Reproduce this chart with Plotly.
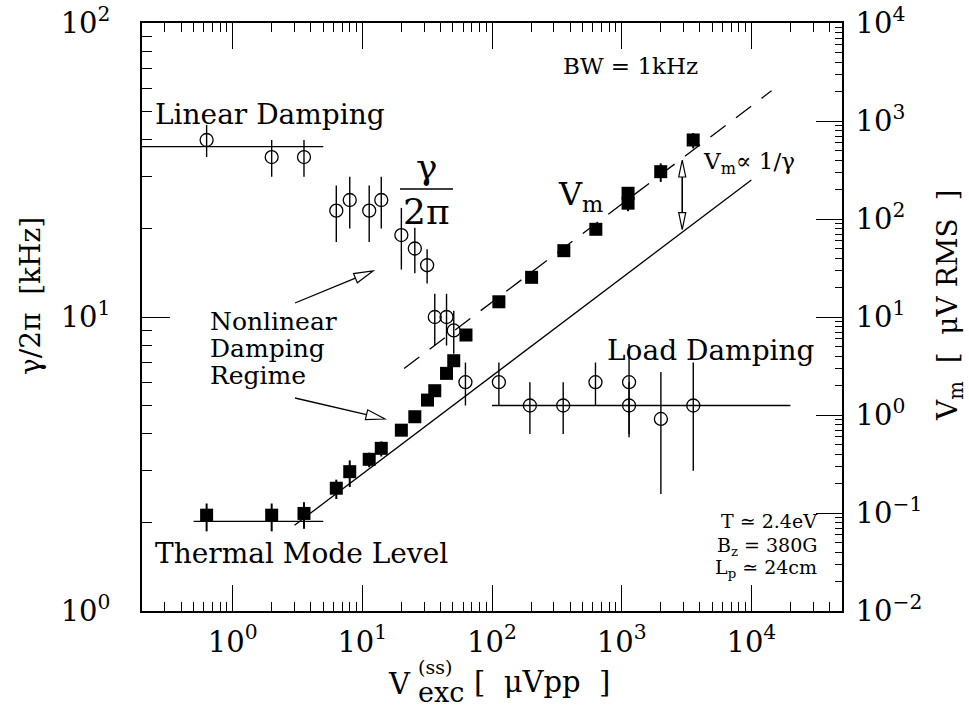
import math
import plotly.graph_objects as go

FONT = "DejaVu Serif"

# ---------------- data ----------------
# damping rate gamma/2pi [kHz]  (open circles, left axis)
gamma_x = [0.63, 2.0, 3.55, 6.3, 8.0, 11.3, 14.0, 20.0, 25.4, 31.6, 36.2, 44.6,
           50.7, 62.4, 113, 196, 354, 628, 1140, 1140, 2006, 3565]
gamma_y = [40, 35, 35, 23, 25, 23, 25, 19, 17.1, 15, 10, 10,
           9, 6, 6, 5, 5, 6, 6, 5, 4.5, 5]
gamma_err = [5, 5, 5, 5, 5, 5, 5, 4.5, 3, 2, 2, 2,
             1.5, 1, 1, 1, 1, 1, 2.1, 1, 2, 2]

# mode amplitude V_m [uV RMS]  (filled squares, right axis)
vm_x = [0.63, 2.0, 3.55, 6.3, 8.0, 11.3, 14.0, 20.0, 25.4, 31.8, 36.2, 44.6,
        50.7, 63.0, 113, 202, 358, 632, 1120, 1120, 2000, 3560]
vm_y = [0.095, 0.095, 0.099, 0.179, 0.264, 0.353, 0.457, 0.70, 0.96, 1.42, 1.77, 2.66,
        3.58, 6.55, 14.3, 25.4, 47.5, 78.5, 145, 183, 304, 640]
vm_err = [0.03, 0.03, 0.03, 0.04, 0.08, 0.06, 0.08, 0, 0, 0, 0, 0,
          0, 0, 0, 0, 0, 0, 25, 25, 65, 115]

# reference levels / fits
linear_damping_x = [0.2, 5]
linear_damping_level = 38          # kHz
load_damping_x = [100, 2.0e4]
load_damping_level = 5             # kHz
thermal_x = [0.5, 5]
thermal_level = 0.082              # uV RMS
linear_resp_x = [3, 1.0e4]
linear_resp_coef = 0.025           # V_m = coef * V_exc
nonlin_x = [21, 1.43e4]
nonlin_coef = 0.142
ratio_arrow_x = 2930               # position of the V_m ~ 1/gamma arrow

x_ticks = [1, 10, 100, 1000, 10000]
x_ticktext = ["10<sup>0</sup>", "10<sup>1</sup>", "10<sup>2</sup>", "10<sup>3</sup>", "10<sup>4</sup>"]
y_ticks = [1, 10, 100]
y_ticktext = ["10<sup>0</sup>", "10<sup>1</sup>", "10<sup>2</sup>"]
y2_ticks = [0.01, 0.1, 1, 10, 100, 1000, 10000]
y2_ticktext = ["10<sup>−2</sup>", "10<sup>−1</sup>", "10<sup>0</sup>", "10<sup>1</sup>",
               "10<sup>2</sup>", "10<sup>3</sup>", "10<sup>4</sup>"]

X_RANGE = [math.log10(0.2), math.log10(5e4)]
Y_RANGE = [0, 2]
Y2_RANGE = [-2, 4]

# ---------------- layout geometry ----------------
W, H = 969, 709
L, R, T, B = 142, 127, 23, 98
PW, PH = W - L - R, H - T - B


def minor_vals(lo, hi):
    out = []
    e = math.floor(math.log10(lo))
    while 10 ** e <= hi:
        for m in range(2, 10):
            v = m * 10 ** e
            if lo * 0.999 <= v <= hi * 1.001:
                out.append(v)
        e += 1
    return out


def px2paper(X, Y):
    return (X - L) / PW, (T + PH - Y) / PH


def data2px(x, y, axis="y"):
    X = L + (math.log10(x) - X_RANGE[0]) / (X_RANGE[1] - X_RANGE[0]) * PW
    rng = Y_RANGE if axis == "y" else Y2_RANGE
    Y = T + PH - (math.log10(y) - rng[0]) / (rng[1] - rng[0]) * PH
    return X, Y


fig = go.Figure()

LW = 1.3
# horizontal level lines
fig.add_trace(go.Scatter(x=linear_damping_x, y=[linear_damping_level] * 2, mode="lines",
                         line=dict(color="black", width=LW), yaxis="y"))
fig.add_trace(go.Scatter(x=load_damping_x, y=[load_damping_level] * 2, mode="lines",
                         line=dict(color="black", width=LW), yaxis="y"))
fig.add_trace(go.Scatter(x=thermal_x, y=[thermal_level] * 2, mode="lines",
                         line=dict(color="black", width=LW), yaxis="y2"))
# linear response line and nonlinear dashed line
fig.add_trace(go.Scatter(x=linear_resp_x, y=[linear_resp_coef * v for v in linear_resp_x],
                         mode="lines", line=dict(color="black", width=LW), yaxis="y2"))
fig.add_trace(go.Scatter(x=nonlin_x, y=[nonlin_coef * v for v in nonlin_x],
                         mode="lines", line=dict(color="black", width=LW, dash="19px,13px"),
                         yaxis="y2"))

# data
fig.add_trace(go.Scatter(x=gamma_x, y=gamma_y, mode="markers", yaxis="y",
                         marker=dict(symbol="circle-open", size=13, color="black",
                                     line=dict(width=1.3, color="black")),
                         error_y=dict(type="data", array=gamma_err, visible=True,
                                      color="black", thickness=1.4, width=0)))
fig.add_trace(go.Scatter(x=vm_x, y=vm_y, mode="markers", yaxis="y2",
                         marker=dict(symbol="square", size=13, color="black",
                                     line=dict(width=0)),
                         error_y=dict(type="data", array=vm_err, visible=True,
                                      color="black", thickness=2, width=0)))

shapes = []
annotations = []


def line_px(X0, Y0, X1, Y1, w=LW):
    a = px2paper(X0, Y0)
    b = px2paper(X1, Y1)
    shapes.append(dict(type="line", xref="paper", yref="paper", x0=a[0], y0=a[1],
                       x1=b[0], y1=b[1], line=dict(color="black", width=w)))


def hollow_arrow(X0, Y0, X1, Y1, head_len=19, head_hw=5, double=False):
    dx, dy = X1 - X0, Y1 - Y0
    d = math.hypot(dx, dy)
    ux, uy = dx / d, dy / d
    nx, ny = -uy, ux

    def head(tx, ty, sx, sy):
        bx, by = tx - sx * head_len, ty - sy * head_len
        pts = [(tx, ty), (bx + nx * head_hw, by + ny * head_hw), (bx - nx * head_hw, by - ny * head_hw)]
        pp = [px2paper(*p) for p in pts]
        path = "M {} {} L {} {} L {} {} Z".format(pp[0][0], pp[0][1], pp[1][0], pp[1][1], pp[2][0], pp[2][1])
        shapes.append(dict(type="path", xref="paper", yref="paper", path=path,
                           fillcolor="white", line=dict(color="black", width=1.2)))
        return bx, by

    ex, ey = head(X1, Y1, ux, uy)
    if double:
        sx, sy = head(X0, Y0, -ux, -uy)
    else:
        sx, sy = X0, Y0
    line_px(sx, sy, ex, ey, w=1.6 if double else LW)


def text_px(X, Y, txt, size, xanchor="left", angle=0, yanchor="middle"):
    px, py = px2paper(X, Y)
    annotations.append(dict(x=px, y=py, xref="paper", yref="paper", text=txt, showarrow=False,
                            xanchor=xanchor, yanchor=yanchor, textangle=angle,
                            font=dict(family=FONT, size=size, color="black")))


# annotation arrows
hollow_arrow(295, 303, 373, 271)
hollow_arrow(295, 398, 385, 419)
ax_top = data2px(ratio_arrow_x, 400, "y2")
ax_bot = data2px(ratio_arrow_x, 78, "y2")
hollow_arrow(ax_bot[0], ax_bot[1], ax_top[0], ax_top[1], head_len=17, head_hw=3.5, double=True)

# gamma / 2pi fraction
text_px(427, 166, "γ", 36, xanchor="center")
line_px(400, 189, 453, 189, w=1.5)
text_px(426, 211, "2π", 36, xanchor="center")

text_px(153, 114, "Linear Damping", 28)
text_px(556, 196, "V<sub>m</sub>", 32)
text_px(561, 66, "BW = 1kHz", 23)
text_px(701, 163, "V<sub>m</sub>∝ 1/γ", 23)
text_px(208, 321, "Nonlinear", 25)
text_px(208, 348, "Damping", 25)
text_px(208, 375, "Regime", 25)
text_px(605, 350, "Load Damping", 28)
text_px(153, 553, "Thermal Mode Level", 28)
text_px(819, 521, "T ≃ 2.4eV", 19, xanchor="right")
text_px(819, 546, "B<sub>z</sub> = 380G", 19, xanchor="right")
text_px(819, 568, "L<sub>p</sub> ≃ 24cm", 19, xanchor="right")

# axis titles
text_px(30, 296, "γ/2π  [kHz]", 28, xanchor="center", angle=-90)
text_px(949, 306, "V<sub>m</sub>  [  μV RMS  ]", 28, xanchor="center", angle=-90)
text_px(386, 684, "V", 29)
text_px(416, 667, "(ss)", 19)
text_px(416, 692, "exc", 27)
text_px(472, 682, "[  μVpp  ]", 29)

tickfont = dict(family=FONT, size=29, color="black")
axis_common = dict(type="log", showgrid=False, zeroline=False, showline=True,
                   linecolor="black", linewidth=1.5, ticks="inside", tickcolor="black",
                   tickwidth=1.3, tickmode="array", tickfont=tickfont, automargin=False)

fig.update_layout(
    width=W, height=H,
    margin=dict(l=L, r=R, t=T, b=B, pad=0, autoexpand=False),
    paper_bgcolor="white", plot_bgcolor="white",
    showlegend=False,
    xaxis=dict(**axis_common, range=X_RANGE, tickvals=x_ticks, ticktext=x_ticktext,
               ticklen=26, mirror="ticks", ticklabelstandoff=4,
               minor=dict(tickmode="array", tickvals=minor_vals(0.2, 5e4), ticks="inside",
                          ticklen=9, tickcolor="black", tickwidth=1.2, showgrid=False)),
    yaxis=dict(**axis_common, range=Y_RANGE, tickvals=y_ticks, ticktext=y_ticktext,
               ticklen=28, ticklabelstandoff=24,
               minor=dict(tickmode="array", tickvals=minor_vals(1, 100), ticks="inside",
                          ticklen=10, tickcolor="black", tickwidth=1.2, showgrid=False)),
    yaxis2=dict(**axis_common, range=Y2_RANGE, tickvals=y2_ticks, ticktext=y2_ticktext,
                overlaying="y", side="right", ticklen=26, ticklabelstandoff=6,
                minor=dict(tickmode="array", tickvals=minor_vals(0.01, 1e4), ticks="inside",
                           ticklen=7, tickcolor="black", tickwidth=1.2, showgrid=False)),
    shapes=shapes,
    annotations=annotations,
)

fig.write_html("out.html", config={"displayModeBar": False},
               post_script="document.body.style.margin='0px';")
